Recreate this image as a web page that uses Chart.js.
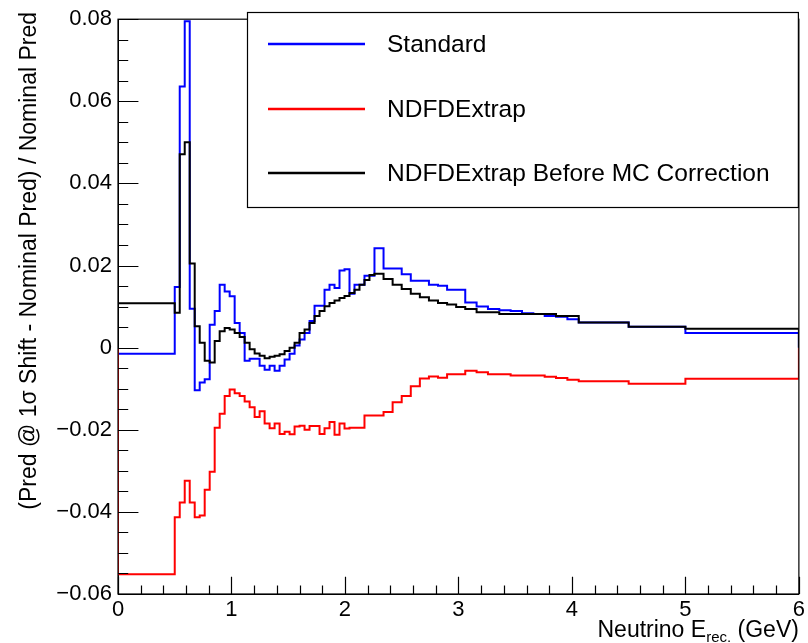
<!DOCTYPE html>
<html><head><meta charset="utf-8">
<script src="https://cdn.jsdelivr.net/npm/chart.js@4/dist/chart.umd.min.js"></script>
<style>html,body{margin:0;padding:0;background:#fff}#wrap{width:808px;height:643px;position:relative}</style>
</head><body><div id="wrap"><canvas id="c" width="808" height="643"></canvas></div>
<script>
// Bin edges of the histogram (GeV)
const binEdges = [0,
  0.5, 0.544, 0.588, 0.632, 0.676, 0.72, 0.764, 0.808, 0.852, 0.896,
  0.94, 0.984, 1.028, 1.072, 1.116, 1.16, 1.204, 1.248, 1.292, 1.336,
  1.38, 1.424, 1.468, 1.512, 1.556, 1.6, 1.644, 1.688, 1.732, 1.776,
  1.82, 1.864, 1.908, 1.952, 1.996, 2.04, 2.084, 2.128, 2.172, 2.216, 2.26,
  2.34, 2.42, 2.50, 2.58, 2.66, 2.74, 2.82, 2.90, 2.98, 3.06,
  3.16, 3.26, 3.36, 3.46, 3.56, 3.66, 3.76, 3.86, 3.96, 4.06,
  4.5, 5.0, 6.0];

const standardValues = [-0.0015,
  0.0148, 0.0636, 0.0795, 0.0095, -0.0104, -0.0085, -0.0077, 0.0056, 0.0089, 0.0153,
  0.0137, 0.0125, 0.006, 0.0036, -0.0032, -0.0027, -0.0027, -0.0044, -0.0054, -0.0044,
  -0.0056, -0.0044, -0.0029, -0.0015, 0.0005, 0.002, 0.0036, 0.0065, 0.0102, 0.0102,
  0.0141, 0.0153, 0.0145, 0.0188, 0.0191, 0.0131, 0.0153, 0.0153, 0.0175, 0.0175,
  0.0242, 0.0193, 0.0193, 0.0179, 0.0163, 0.0163, 0.0153, 0.0151, 0.0141, 0.0141,
  0.011, 0.0100, 0.0094, 0.0091, 0.0089, 0.0084, 0.0082, 0.0077, 0.0075, 0.0069,
  0.0061, 0.0051, 0.0036];

const ndfdValues = [-0.0552,
  -0.0413, -0.0377, -0.0324, -0.0377, -0.0413, -0.0409, -0.0346, -0.0302, -0.0195, -0.0161,
  -0.0118, -0.0102, -0.0111, -0.0118, -0.0131, -0.0145, -0.0169, -0.0155, -0.0185, -0.0196,
  -0.0185, -0.021, -0.0205, -0.0211, -0.0192, -0.019, -0.02, -0.0191, -0.0191, -0.021,
  -0.0196, -0.0181, -0.0212, -0.0185, -0.0197, -0.0195, -0.0195, -0.0195, -0.0165, -0.0165,
  -0.0165, -0.0157, -0.0133, -0.0118, -0.0094, -0.0075, -0.007, -0.0073, -0.0065, -0.0065,
  -0.0056, -0.006, -0.0065, -0.0065, -0.0068, -0.0068, -0.0068, -0.0071, -0.0074, -0.0078,
  -0.0082, -0.0088, -0.0076];

const beforeMCValues = [0.0108,
  0.0085, 0.0471, 0.050, 0.0205, 0.0052, 0.0012, -0.0032, -0.0036, 0.0016, 0.004,
  0.0048, 0.0044, 0.0036, 0.0026, 0.0012, -0.0004, -0.0014, -0.002, -0.0026, -0.0022,
  -0.002, -0.0016, -0.0008, 0, 0.0012, 0.0036, 0.0044, 0.006, 0.0077, 0.0089,
  0.0101, 0.0109, 0.0115, 0.0121, 0.0126, 0.0133, 0.0141, 0.0153, 0.0165, 0.0177,
  0.018, 0.0167, 0.0153, 0.0143, 0.0131, 0.0123, 0.0115, 0.0109, 0.0105, 0.0099,
  0.0094, 0.0086, 0.0086, 0.0082, 0.0082, 0.0082, 0.0082, 0.0082, 0.0077, 0.0077,
  0.0061, 0.0051, 0.0046];

const seriesNames = ['Standard', 'NDFDExtrap', 'NDFDExtrap Before MC Correction'];
const seriesColors = ['#0000ff', '#ff0000', '#000000'];
const xRange = [0, 6];
const yRange = [-0.06, 0.08];
const xAxisTitle = ['Neutrino E', 'rec.', ' (GeV)'];
const yAxisTitle = '(Pred @ 1\u03c3 Shift - Nominal Pred) / Nominal Pred';

const FONT = '"Liberation Sans", Arial, Helvetica, sans-serif';

function histPoints(vals) {
  const n = vals.length;
  const pts = [{x: binEdges[0], y: 0}];
  for (let i = 0; i < n; i++) pts.push({x: binEdges[i], y: vals[i]});
  pts.push({x: binEdges[n], y: vals[n - 1]});
  pts.push({x: binEdges[n], y: 0});
  return pts;
}

const allValues = [standardValues, ndfdValues, beforeMCValues];

const rootDecor = {
  id: 'rootDecor',
  afterDraw(chart) {
    const ctx = chart.ctx;
    const a = chart.chartArea;
    const xs = chart.scales.x, ys = chart.scales.y;
    ctx.save();
    ctx.strokeStyle = '#000';
    ctx.lineWidth = 1.2;
    // frame
    ctx.strokeRect(a.left, a.top, a.right - a.left, a.bottom - a.top);
    // y ticks (inside)
    ctx.beginPath();
    const yMaj = 0.03 * (a.right - a.left), yMin = yMaj / 2;
    for (let k = 0; k <= 28; k++) {
      const v = yRange[0] + k * 0.005;
      const p = Math.round(ys.getPixelForValue(v)) + 0.5;
      const len = (k % 4 === 0) ? yMaj : yMin;
      ctx.moveTo(a.left, p); ctx.lineTo(a.left + len, p);
    }
    // x ticks (inside)
    const xMaj = 0.03 * (a.bottom - a.top), xMin = xMaj / 2;
    for (let k = 0; k <= 30; k++) {
      const v = xRange[0] + k * 0.2;
      const p = Math.round(xs.getPixelForValue(v)) + 0.5;
      const len = (k % 5 === 0) ? xMaj : xMin;
      ctx.moveTo(p, a.bottom); ctx.lineTo(p, a.bottom - len);
    }
    ctx.stroke();

    // legend box
    const L = {x0: 247, y0: 12, x1: a.right, y1: 208};
    ctx.fillStyle = '#fff';
    ctx.fillRect(L.x0, L.y0, L.x1 - L.x0, L.y1 - L.y0);
    ctx.lineWidth = 1.2;
    ctx.strokeRect(L.x0 + 0.5, L.y0 + 0.5, L.x1 - L.x0 - 1, L.y1 - L.y0 - 1);
    const rows = [44, 109, 173];
    ctx.font = '24.5px ' + FONT;
    ctx.textBaseline = 'middle';
    ctx.textAlign = 'left';
    for (let i = 0; i < seriesNames.length; i++) {
      ctx.strokeStyle = seriesColors[i];
      ctx.lineWidth = 2.5;
      ctx.beginPath();
      ctx.moveTo(268, rows[i]); ctx.lineTo(365, rows[i]);
      ctx.stroke();
      ctx.fillStyle = '#000';
      ctx.fillText(seriesNames[i], 387, rows[i] + 1);
    }

    // x axis title (right aligned)
    ctx.fillStyle = '#000';
    ctx.textBaseline = 'alphabetic';
    const big = '23px ' + FONT, small = '15px ' + FONT;
    ctx.font = big; const w1 = ctx.measureText(xAxisTitle[0]).width, w3 = ctx.measureText(xAxisTitle[2]).width;
    ctx.font = small; const w2 = ctx.measureText(xAxisTitle[1]).width;
    let x = a.right - (w1 + w2 + w3);
    const base = 637;
    ctx.font = big; ctx.fillText(xAxisTitle[0], x, base); x += w1;
    ctx.font = small; ctx.fillText(xAxisTitle[1], x, base + 5); x += w2;
    ctx.font = big; ctx.fillText(xAxisTitle[2], x, base);

    // y axis title (rotated, right aligned to top)
    ctx.save();
    ctx.translate(30, 12);
    ctx.rotate(-Math.PI / 2);
    ctx.font = '23px ' + FONT;
    ctx.textAlign = 'right';
    ctx.textBaseline = 'middle';
    ctx.fillText(yAxisTitle, 0, 0);
    ctx.restore();
    ctx.restore();
  }
};

new Chart(document.getElementById('c'), {
  type: 'line',
  data: {
    datasets: seriesNames.map((name, i) => ({
      label: name,
      data: histPoints(allValues[i]),
      borderColor: seriesColors[i],
      borderWidth: 2,
      stepped: 'before',
      pointRadius: 0,
      fill: false,
      order: 2 - i
    }))
  },
  options: {
    responsive: false,
    animation: false,
    devicePixelRatio: 1,
    layout: {padding: {left: 0, right: 3, top: 14, bottom: 0}},
    plugins: {legend: {display: false}, tooltip: {enabled: false}},
    scales: {
      x: {
        type: 'linear', min: xRange[0], max: xRange[1],
        grid: {display: false, drawTicks: false},
        border: {display: true, color: '#000', width: 1},
        ticks: {stepSize: 1, color: '#000', padding: 3, maxRotation: 0,
          font: {family: FONT, size: 22}},
        afterFit(s) { s.height = 49; }
      },
      y: {
        min: yRange[0], max: yRange[1],
        grid: {display: false, drawTicks: false},
        border: {display: true, color: '#000', width: 1},
        ticks: {stepSize: 0.02, color: '#000', padding: 6,
          font: {family: FONT, size: 22},
          callback: v => {
            const r = Math.round(v * 100) / 100;
            if (Math.abs(r) < 1e-9) return '0';
            return (r < 0 ? '\u2212' : '') + Math.abs(r).toFixed(2);
          }},
        afterFit(s) { s.width = 118; }
      }
    }
  },
  plugins: [rootDecor]
});
</script>
</body></html>
